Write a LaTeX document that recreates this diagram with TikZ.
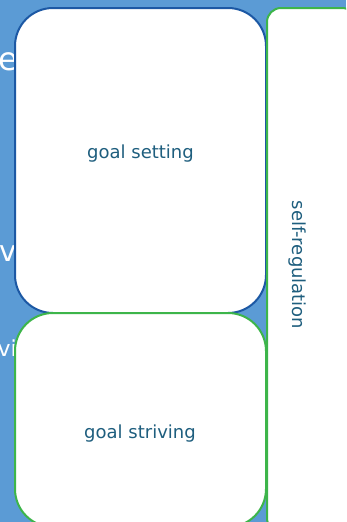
\documentclass[tikz,border=0pt]{standalone}
\usepackage{fontspec}
\setmainfont{DejaVu Sans}
\usepackage{xcolor}
\usetikzlibrary{positioning}

\definecolor{bgblue}{HTML}{5B9BD5}
\definecolor{edgeblue}{HTML}{1C58A4}
\definecolor{edgegreen}{HTML}{3DB54A}
\definecolor{textteal}{HTML}{1E5E7E}

\tikzset{
  goalbox/.style={draw, fill=white, line width=2pt, rounded corners=38pt, inner sep=0pt},
  sidebox/.style={goalbox, rounded corners=14pt},
  boxtext/.style={text=textteal, inner sep=0pt, font=\fontsize{18pt}{20pt}\selectfont},
  backtext/.style={text=white, inner sep=0pt, anchor=base west}
}

\begin{document}
\begin{tikzpicture}[x=1pt, y=-1pt]
  % Fundo
  \useasboundingbox (0,0) rectangle (346,522);
  \clip (0,0) rectangle (346,522);
  \fill[bgblue] (0,0) rectangle (346,522);

  % Texto branco por tras das caixas
  \node[backtext, font=\fontsize{32pt}{34pt}\selectfont] (back1) at (-1.5,70.5) {e};
  \node[backtext, font=\fontsize{29pt}{31pt}\selectfont] (back2) at (-0.5,261) {v};
  \node[backtext, font=\fontsize{22pt}{24pt}\selectfont] (back3) at (-2.5,356) {vi};

  % Caixas
  \node[goalbox, draw=edgeblue, minimum width=251pt, minimum height=305pt] (setting) at (140.5,160.5) {};
  \node[goalbox, draw=edgegreen, minimum width=251pt, minimum height=214pt] (striving) at (140.5,420) {};
  \node[sidebox, draw=edgegreen, minimum width=89pt, minimum height=524pt] (regulation) at (311.5,270) {};

  % Textos
  \node[boxtext, anchor=base] (settingtext) at (140.5,158) {goal setting};
  \node[boxtext, anchor=base] (strivingtext) at (140,438) {goal striving};
  \node[boxtext, rotate=-90] (regulationtext) at (297,265) {self-regulation};
\end{tikzpicture}
\end{document}
